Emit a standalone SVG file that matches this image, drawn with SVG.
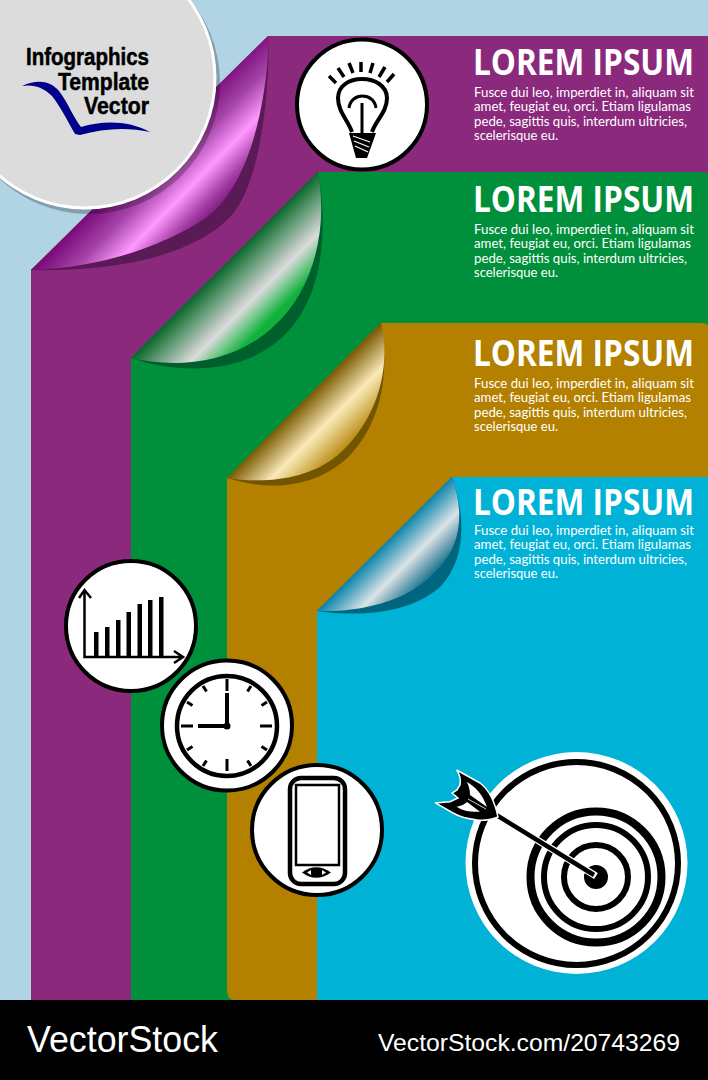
<svg xmlns="http://www.w3.org/2000/svg" width="708" height="1080" viewBox="0 0 708 1080">
<style>
.h{font-family:"Open Sans","Liberation Sans",sans-serif;font-weight:700;font-size:35px;fill:#fff}
.b{font-family:Lato,"Liberation Sans",sans-serif;font-size:13px;fill:#fff}
.t{font-family:"Liberation Sans",Arial,sans-serif;font-weight:700;font-size:23px;fill:#000;stroke:#000;stroke-width:.5}
.w{fill:#fff;stroke:#000;stroke-width:4}
.k{fill:none;stroke:#000;stroke-linecap:butt}
</style>
<defs>
<linearGradient id="gp" gradientUnits="userSpaceOnUse" x1="150" y1="152" x2="214" y2="214"><stop offset="0" stop-color="#7c0e7c"/><stop offset=".3" stop-color="#a544a8"/><stop offset=".6" stop-color="#ff99ff"/><stop offset=".85" stop-color="#a640a8"/><stop offset="1" stop-color="#7c1a7c"/></linearGradient>
<linearGradient id="gg" gradientUnits="userSpaceOnUse" x1="218" y1="272" x2="268" y2="322"><stop offset="0" stop-color="#0a6a2c"/><stop offset=".62" stop-color="#dcdcdc"/><stop offset="1" stop-color="#10b23c"/></linearGradient>
<linearGradient id="gy" gradientUnits="userSpaceOnUse" x1="282" y1="423" x2="327" y2="468"><stop offset="0" stop-color="#7a5a05"/><stop offset=".5" stop-color="#fbeab8"/><stop offset="1" stop-color="#b98a10"/></linearGradient>
<linearGradient id="gb" gradientUnits="userSpaceOnUse" x1="364" y1="565" x2="405" y2="606"><stop offset="0" stop-color="#0f86ad"/><stop offset=".5" stop-color="#dbe3e6"/><stop offset="1" stop-color="#0b6a85"/></linearGradient>
</defs>
<rect width="708" height="1080" fill="#b0d4e4"/>

<g id="sheet-purple">
<path d="M268 36H708V1000H31V270Z" fill="#8b297d"/>
<path d="M31 270C110 272 190 258 230 217C258 187 268 110 269 42Z" fill="#5a1a55"/>
<path d="M31 270C100 268 165 246 207 217C245 188 265 120 269 40L268 36Z" fill="url(#gp)"/>
</g>
<g id="sheet-green">
<path d="M318 172H700Q708 172 708 174V1000H131V358Z" fill="#00903c"/>
<path d="M131 358C190 378 272 374 306 305C325 268 326 215 318 172Z" fill="#00602c"/>
<path d="M131 358C170 367 228 367 272 328C315 290 328 228 318 172Z" fill="url(#gg)"/>
</g>
<g id="sheet-gold">
<path d="M381 323H700Q708 323 708 326V1000H235Q227 1000 227 990V478Z" fill="#b38000"/>
<path d="M227 478C265 490 310 490 345 460C375 432 392 385 381 323Z" fill="#735500"/>
<path d="M227 478C260 483 305 482 338 455C372 425 393 375 381 323Z" fill="url(#gy)"/>
</g>
<g id="sheet-blue">
<path d="M452 477H708V1000H317V611Z" fill="#00b2d6"/>
<path d="M317 611C360 617 410 614 441 586C463 561 468 525 452 477Z" fill="#00657f"/>
<path d="M317 611C355 612 405 605 436 571C461 546 465 515 452 477Z" fill="url(#gb)"/>
</g>

<g id="logo-disc">
<circle cx="89" cy="83" r="131" fill="#000" opacity=".25"/>
<circle cx="85" cy="78" r="131.500" fill="#fff"/>
<circle cx="85" cy="78" r="128.500" fill="#dcdcdc"/>
<text class="t" x="149" y="65" text-anchor="end" textLength="123" lengthAdjust="spacingAndGlyphs">Infographics</text>
<text class="t" x="149" y="90" text-anchor="end" textLength="91" lengthAdjust="spacingAndGlyphs">Template</text>
<text class="t" x="149" y="114" text-anchor="end" textLength="65" lengthAdjust="spacingAndGlyphs">Vector</text>
<path d="M22 86C38 79 50 81 59 91C67 101 72 115 81 127C104 120 130 121 150 132C128 127 104 128 80 135L75 134C66 118 60 106 52 96C44 88 34 84 22 86Z" fill="#00008b"/>
</g>

<g id="text-1">
<text class="h" x="473" y="75" textLength="221" lengthAdjust="spacingAndGlyphs">LOREM IPSUM</text>
<text class="b" x="474" y="97" textLength="220" lengthAdjust="spacingAndGlyphs">Fusce dui leo, imperdiet in, aliquam sit</text>
<text class="b" x="474" y="111.300" textLength="217" lengthAdjust="spacingAndGlyphs">amet, feugiat eu, orci. Etiam ligulamas</text>
<text class="b" x="474" y="125.500" textLength="213" lengthAdjust="spacingAndGlyphs">pede, sagittis quis, interdum ultricies,</text>
<text class="b" x="474" y="140" textLength="84" lengthAdjust="spacingAndGlyphs">scelerisque eu.</text>
</g>
<g id="text-2" transform="translate(0 137)">
<text class="h" x="473" y="75" textLength="221" lengthAdjust="spacingAndGlyphs">LOREM IPSUM</text>
<text class="b" x="474" y="97" textLength="220" lengthAdjust="spacingAndGlyphs">Fusce dui leo, imperdiet in, aliquam sit</text>
<text class="b" x="474" y="111.300" textLength="217" lengthAdjust="spacingAndGlyphs">amet, feugiat eu, orci. Etiam ligulamas</text>
<text class="b" x="474" y="125.500" textLength="213" lengthAdjust="spacingAndGlyphs">pede, sagittis quis, interdum ultricies,</text>
<text class="b" x="474" y="140" textLength="84" lengthAdjust="spacingAndGlyphs">scelerisque eu.</text>
</g>
<g id="text-3" transform="translate(0 291)">
<text class="h" x="473" y="75" textLength="221" lengthAdjust="spacingAndGlyphs">LOREM IPSUM</text>
<text class="b" x="474" y="97" textLength="220" lengthAdjust="spacingAndGlyphs">Fusce dui leo, imperdiet in, aliquam sit</text>
<text class="b" x="474" y="111.300" textLength="217" lengthAdjust="spacingAndGlyphs">amet, feugiat eu, orci. Etiam ligulamas</text>
<text class="b" x="474" y="125.500" textLength="213" lengthAdjust="spacingAndGlyphs">pede, sagittis quis, interdum ultricies,</text>
<text class="b" x="474" y="140" textLength="84" lengthAdjust="spacingAndGlyphs">scelerisque eu.</text>
</g>
<g id="text-4" transform="translate(0 438)">
<text class="h" x="473" y="76.500" textLength="221" lengthAdjust="spacingAndGlyphs">LOREM IPSUM</text>
<text class="b" x="474" y="97" textLength="220" lengthAdjust="spacingAndGlyphs">Fusce dui leo, imperdiet in, aliquam sit</text>
<text class="b" x="474" y="111.300" textLength="217" lengthAdjust="spacingAndGlyphs">amet, feugiat eu, orci. Etiam ligulamas</text>
<text class="b" x="474" y="125.500" textLength="213" lengthAdjust="spacingAndGlyphs">pede, sagittis quis, interdum ultricies,</text>
<text class="b" x="474" y="140" textLength="84" lengthAdjust="spacingAndGlyphs">scelerisque eu.</text>
</g>

<g id="icon-bulb">
<circle class="w" cx="362" cy="104.500" r="65"/>
<path class="k" stroke-width="3.500" d="M329 76L336 83M338 68L344 77M349 63L353 73M361 62V72M373 63L370 73M385 67L379 77M394 74L387 82"/>
<path class="k" stroke-width="4" d="M352 132C348 120 338 112 338 98C338 86 349 79 362 79C375 79 387 86 387 98C387 112 376 120 372 132"/>
<path class="k" stroke-width="3" d="M349 108C351 92 374 92 376 108M362 103V133"/>
<path d="M349 133H376L367 158H356Z" fill="#000"/>
<path d="M353 136L370 142M354 141L369 147M355 146L368 152" stroke="#fff" stroke-width="1.200"/>
</g>

<g id="icon-chart">
<circle class="w" cx="131" cy="626" r="65"/>
<path class="k" stroke-width="2.500" d="M84.500 590V657H183M79 598L84.500 590L91 598M174 651L183 657L174 663"/>
<path fill="#000" d="M94 632h4.500v25H94ZM105 627h4.500v30H105ZM116 620h4.500v37H116ZM126.500 612h4.500v45h-4.500ZM137.500 604h4.500v53h-4.500ZM148 600h4.500v57H148ZM159 597h4.500v60H159Z"/>
</g>

<g id="icon-clock">
<circle class="w" cx="227" cy="725.500" r="65"/>
<circle cx="227" cy="726" r="50" fill="none" stroke="#000" stroke-width="4.500"/>
<path class="k" stroke-width="3" d="M227 679V691M227 759V771M181 726H193M260 726H272M203 686L206.500 691.500M251 686L247.500 691.500M187 702L192.500 705.500M267 702L261.500 705.500M187 750L192.500 746.500M267 750L261.500 746.500M203 766L206.500 760.500M251 766L247.500 760.500"/>
<path class="k" stroke-width="4" d="M227 693V726H198"/>
<circle cx="227" cy="726" r="3.500" fill="#000"/>
</g>

<g id="icon-phone">
<circle class="w" cx="317" cy="830" r="65"/>
<rect x="290" y="778" width="55" height="106" rx="11" fill="#fff" stroke="#000" stroke-width="4.500"/>
<rect x="296" y="785" width="43" height="80" fill="#fff" stroke="#000" stroke-width="2.500"/>
<path d="M302 872.500Q316 862 331 872.500Q316 883 302 872.500Z" fill="#000"/>
<path d="M307 872.500L311 870V875ZM326 872.500L322 870V875Z" fill="#fff"/>
</g>

<g id="icon-target">
<circle cx="576.500" cy="863" r="111" fill="#fff"/>
<circle cx="576.500" cy="863.500" r="101.500" fill="none" stroke="#000" stroke-width="6"/>
<circle cx="596" cy="877" r="65.500" fill="none" stroke="#000" stroke-width="8"/>
<circle cx="596" cy="877" r="52" fill="none" stroke="#000" stroke-width="6"/>
<circle cx="596" cy="877" r="32" fill="none" stroke="#000" stroke-width="6"/>
<circle cx="596" cy="877" r="12" fill="#000"/>
<path d="M596 876L490 811" stroke="#fff" stroke-width="7"/>
<path d="M594 875L490 811" stroke="#000" stroke-width="4.500"/>
<path d="M456.700 770L480 783C488 789 494 798 498 817C490 820 484 821 477 820C468 819 460 817 453 813L435 802.700C441 803 446 802 450 801.700L458 798L452 793L457 790L460 785C461 780 460 775 456.700 770Z" fill="#000" stroke="#fff" stroke-width="1.500"/>
<path d="M466.700 782C475 786 483 795 487 807L470 795C470 790 469 786 466.700 782ZM456.700 806.700C462 806 466 803 467 802L480 811.700C470 812 463 811 456.700 806.700Z" fill="#fff"/>
<path d="M468 799L486 809" stroke="#fff" stroke-width=".8"/>
</g>

<g id="footer">
<rect y="1000" width="708" height="80" fill="#000"/>
<text x="27" y="1052" font-family="Liberation Sans,Arial,sans-serif" font-size="36" fill="#fff" textLength="191" lengthAdjust="spacingAndGlyphs">VectorStock</text>
<text x="378" y="1051" font-family="Liberation Sans,Arial,sans-serif" font-size="24" fill="#fff" textLength="302" lengthAdjust="spacingAndGlyphs">VectorStock.com/20743269</text>
</g>
<g id="connectors"/>
</svg>
